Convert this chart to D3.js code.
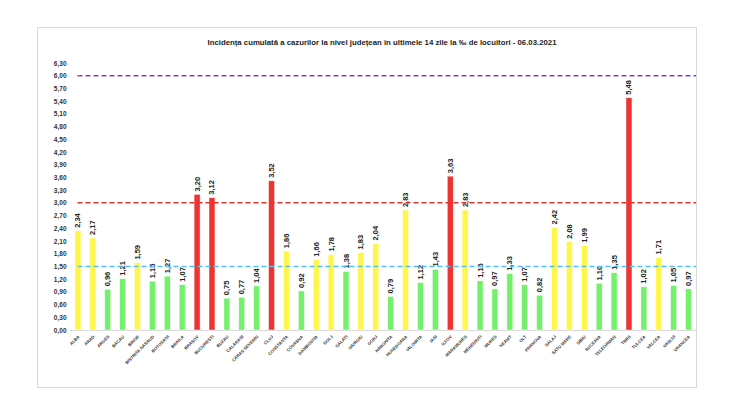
<!DOCTYPE html>
<html>
<head>
<meta charset="utf-8">
<script src="https://cdn.jsdelivr.net/npm/d3@7"></script>
<style>
  body { margin: 0; background: #fff; }
  text { font-family: "Liberation Sans", Arial, sans-serif; }
</style>
</head>
<body>
<script>
const judete = ["ALBA", "ARAD", "ARGES", "BACAU", "BIHOR", "BISTRITA NASAUD", "BOTOSANI", "BRAILA",
  "BRASOV", "BUCURESTI", "BUZAU", "CALARASI", "CARAS SEVERIN", "CLUJ", "CONSTANTA", "COVASNA",
  "DAMBOVITA", "DOLJ", "GALATI", "GIURGIU", "GORJ", "HARGHITA", "HUNEDOARA", "IALOMITA", "IASI",
  "ILFOV", "MARAMURES", "MEHEDINTI", "MURES", "NEAMT", "OLT", "PRAHOVA", "SALAJ", "SATU MARE",
  "SIBIU", "SUCEAVA", "TELEORMAN", "TIMIS", "TULCEA", "VALCEA", "VASLUI", "VRANCEA"]
const incidenta = [2.34, 2.17, 0.96, 1.21, 1.59, 1.15, 1.27, 1.07, 3.20, 3.12, 0.75, 0.77, 1.04,
  3.52, 1.86, 0.92, 1.66, 1.78, 1.38, 1.83, 2.04, 0.79, 2.83, 1.12, 1.43, 3.63, 2.83, 1.16, 0.97,
  1.33, 1.07, 0.82, 2.42, 2.08, 1.99, 1.10, 1.35, 5.48, 1.02, 1.71, 1.05, 0.97]
const yTicks = d3.range(0, 22).map(i => +(i * 0.3).toFixed(2))
const praguri = [
  {value: 6.0, color: "#8a3fd1"},
  {value: 3.0, color: "#e8302f"},
  {value: 1.5, color: "#4fc3f7"},
]
const title = "Incidența cumulată a cazurilor la nivel județean în ultimele 14 zile la ‰ de locuitori - 06.03.2021"

const dataset = judete.map((j, i) => ({name: j, value: incidenta[i]}))
const fmt = v => v.toFixed(2).replace(".", ",")
const colorOf = v => v > 3 ? "#ee3432" : (v >= 1.5 ? "#fff64c" : "#74f06c")

const width = 735, height = 414
const plot = {left: 70.5, right: 696, top: 63, bottom: 330}

const svg = d3.select("body").append("svg")
  .attr("width", width)
  .attr("height", height)

// frame
svg.append("rect")
  .attr("x", 37.5).attr("y", 27.5)
  .attr("width", 659).attr("height", 360)
  .attr("fill", "none")
  .attr("stroke", "#d9d9d9")

svg.append("text")
  .attr("x", 382).attr("y", 45)
  .attr("text-anchor", "middle")
  .attr("font-size", 8)
  .attr("font-weight", "bold")
  .attr("fill", "#222")
  .attr("textLength", 349)
  .attr("lengthAdjust", "spacingAndGlyphs")
  .text(title)

const xScale = d3.scaleBand()
  .domain(judete)
  .range([plot.left, plot.right])
  .paddingInner(0.6)
  .paddingOuter(0.3)

const yScale = d3.scaleLinear()
  .domain([0, 6.3])
  .range([plot.bottom, plot.top])

// y axis
const yAxis = svg.append("g")
  .attr("transform", `translate(${plot.left - 4},0)`)
  .call(d3.axisLeft(yScale).tickValues(yTicks).tickFormat(fmt).tickSize(0).tickPadding(0))
yAxis.select(".domain").remove()
yAxis.selectAll("text")
  .attr("font-size", 6.5)
  .attr("font-weight", "bold")
  .attr("fill", "#333")

// baseline
svg.append("line")
  .attr("x1", plot.left).attr("x2", plot.right)
  .attr("y1", plot.bottom + 0.5).attr("y2", plot.bottom + 0.5)
  .attr("stroke", "#d9d9d9")

// bars
svg.append("g").selectAll("rect")
  .data(dataset)
  .join("rect")
    .attr("x", d => xScale(d.name))
    .attr("y", d => yScale(d.value))
    .attr("width", xScale.bandwidth())
    .attr("height", d => yScale(0) - yScale(d.value))
    .attr("fill", d => colorOf(d.value))
    .attr("stroke", "#ffffff")
    .attr("stroke-opacity", 0.7)
    .attr("stroke-width", 0.6)

// value labels
svg.append("g").selectAll("text")
  .data(dataset)
  .join("text")
    .attr("transform", d => `translate(${xScale(d.name) + xScale.bandwidth() / 2 + 2.5},${yScale(d.value) - 3}) rotate(-90)`)
    .attr("font-size", 7.5)
    .attr("font-weight", "bold")
    .attr("fill", "#222")
    .text(d => fmt(d.value))

// threshold lines
svg.append("g").selectAll("line")
  .data(praguri)
  .join("line")
    .attr("x1", plot.left + 7).attr("x2", plot.right)
    .attr("y1", d => yScale(d.value)).attr("y2", d => yScale(d.value))
    .attr("stroke", d => d.color)
    .attr("stroke-width", 1.5)
    .attr("stroke-dasharray", "5,3")

// x labels
svg.append("g").selectAll("text")
  .data(dataset)
  .join("text")
    .attr("transform", d => `translate(${xScale(d.name) + xScale.bandwidth() / 2 + 2},${plot.bottom + 7}) rotate(-45)`)
    .attr("text-anchor", "end")
    .attr("font-size", 4.3)
    .attr("font-weight", "bold")
    .attr("fill", "#333")
    .text(d => d.name)
</script>
</body>
</html>
